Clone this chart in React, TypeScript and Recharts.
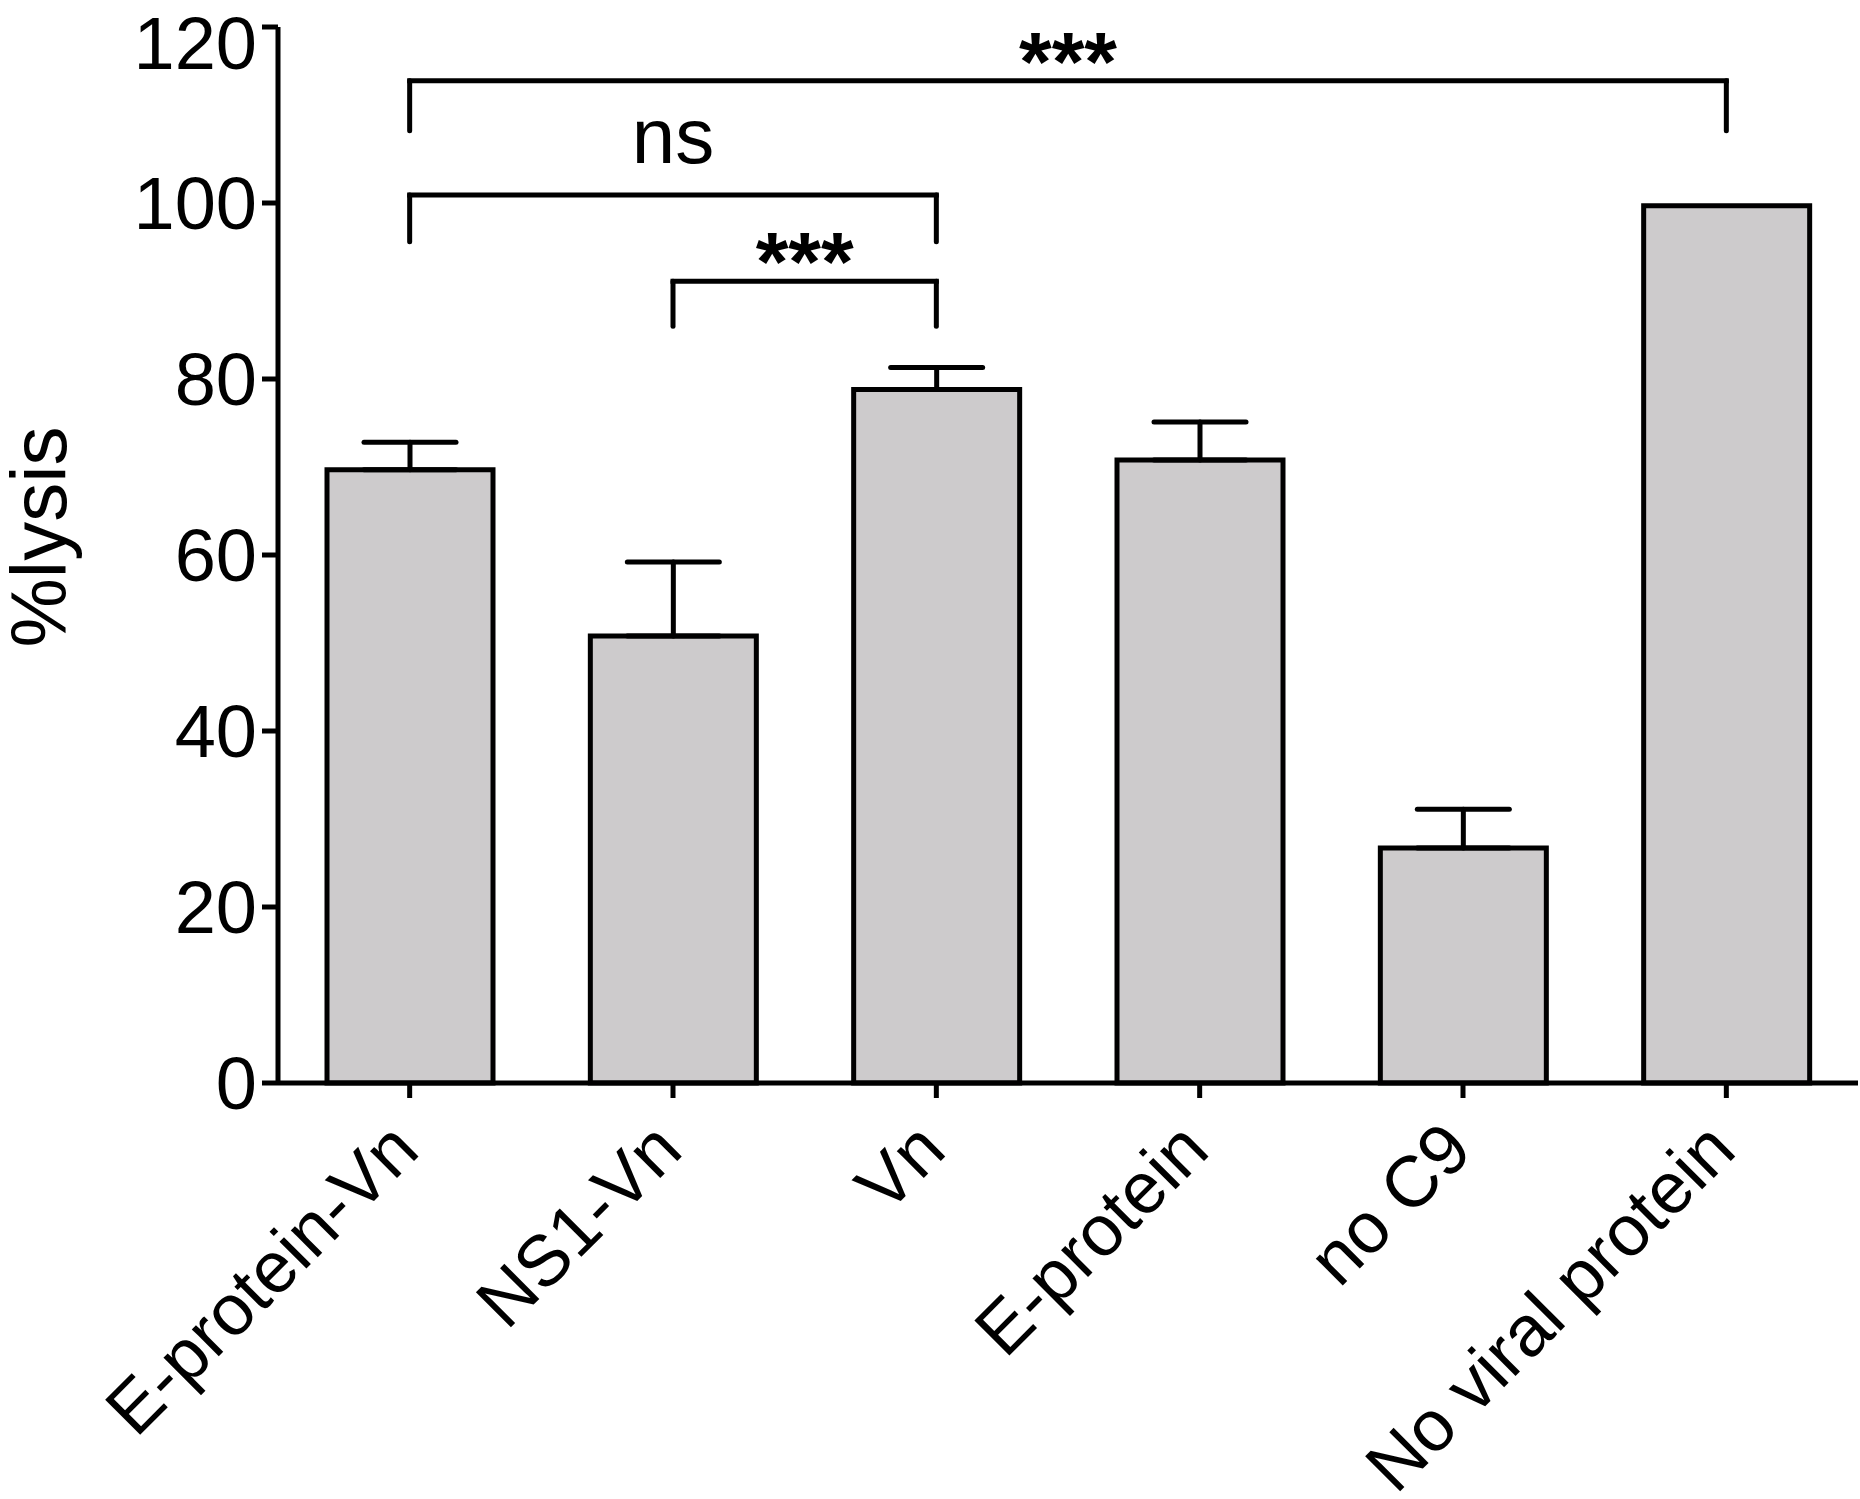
import React from "react";
import { BarChart, Bar, XAxis, YAxis, ErrorBar, ReferenceLine } from "recharts";

const FONT = "'Liberation Sans', Arial, Helvetica, sans-serif";

// groups and % lysis values
const CATEGORIES = ["E-protein-Vn", "NS1-Vn", "Vn", "E-protein", "no C9", "No viral protein"];
const LYSIS = [69.7, 50.8, 78.8, 70.8, 26.7, 99.7];
const ERR_UP = [3.1, 8.4, 2.5, 4.3, 4.4, null];
const Y_TICKS = [0, 20, 40, 60, 80, 100, 120];

// significance brackets: bar line height and where the legs end
const BRACKETS = [
  { from: "E-protein-Vn", to: "No viral protein", y: 113.9, leg: 108.2, text: "***" },
  { from: "E-protein-Vn", to: "Vn", y: 100.9, leg: 95.6, text: "ns" },
  { from: "NS1-Vn", to: "Vn", y: 91.1, leg: 86.0, text: "***" },
];

const data = CATEGORIES.map((name, i) => ({
  name,
  lysis: LYSIS[i],
  err: ERR_UP[i] == null ? null : [0, ERR_UP[i]],
}));

const labelStyle = (text: string) =>
  text === "ns"
    ? { value: text, position: "top" as const, offset: 32, fontSize: 78, fill: "#000", fontFamily: FONT }
    : { value: text, position: "top" as const, offset: -10, fontSize: 84, fontWeight: "bold", fill: "#000", fontFamily: FONT };

// slanted category label, end of text just right of the tick
function SlantTick(props: any) {
  const { x, y, payload } = props;
  const ax = x - 24;
  return (
    <text
      x={ax}
      y={y}
      dy="0.71em"
      transform={`rotate(-45, ${ax}, ${y})`}
      textAnchor="end"
      fontSize={72}
      fontFamily={FONT}
      fill="#000"
    >
      {payload.value}
    </text>
  );
}

export default function App() {
  return (
    <div style={{ position: "absolute", left: 0, top: 0, background: "#fff" }}>
      <BarChart width={1860} height={1499} data={data} margin={{ top: 27, right: 2, left: 0, bottom: 0 }}>
        <XAxis
          dataKey="name"
          interval={0}
          height={416}
          tickSize={15}
          tickMargin={19}
          axisLine={{ stroke: "#000", strokeWidth: 5 }}
          tickLine={{ stroke: "#000", strokeWidth: 5 }}
          tick={<SlantTick />}
        />
        <YAxis
          domain={[0, 120]}
          ticks={Y_TICKS}
          width={278}
          tickSize={16}
          tickMargin={5}
          axisLine={{ stroke: "#000", strokeWidth: 5 }}
          tickLine={{ stroke: "#000", strokeWidth: 5 }}
          tick={{ fontSize: 74, fill: "#000", fontFamily: FONT }}
          label={{
            content: () => (
              <text
                x={66}
                y={537}
                transform="rotate(-90 66 537)"
                textAnchor="middle"
                fontSize={78}
                fontFamily={FONT}
                fill="#000"
              >
                %lysis
              </text>
            ),
          }}
        />
        <Bar dataKey="lysis" barSize={166} fill="#cdcbcc" stroke="#000" strokeWidth={5} isAnimationActive={false}>
          <ErrorBar
            dataKey="err"
            direction="y"
            width={46}
            stroke="#000"
            strokeWidth={5}
            strokeLinecap="round"
            isAnimationActive={false}
          />
        </Bar>
        {BRACKETS.map((b, i) => (
          <ReferenceLine
            key={`h${i}`}
            segment={[
              { x: b.from, y: b.y },
              { x: b.to, y: b.y },
            ]}
            stroke="#000"
            strokeWidth={5}
            strokeLinecap="square"
            label={labelStyle(b.text)}
          />
        ))}
        {BRACKETS.flatMap((b, i) =>
          [b.from, b.to].map((c, j) => (
            <ReferenceLine
              key={`v${i}-${j}`}
              segment={[
                { x: c, y: b.y },
                { x: c, y: b.leg },
              ]}
              stroke="#000"
              strokeWidth={5}
              strokeLinecap="round"
            />
          ))
        )}
      </BarChart>
    </div>
  );
}
